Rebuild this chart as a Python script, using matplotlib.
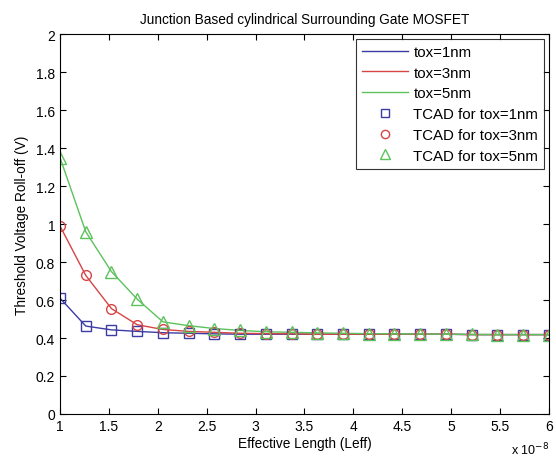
import numpy as np
import matplotlib
matplotlib.use('Agg')
import matplotlib.pyplot as plt

plt.rcParams['font.family'] = ['Liberation Sans', 'DejaVu Sans']

# effective length, in units of 1e-8 m
leff = [1.0, 1.263, 1.526, 1.789, 2.053, 2.316, 2.579, 2.842, 3.105, 3.368,
        3.632, 3.895, 4.158, 4.421, 4.684, 4.947, 5.211, 5.474, 5.737, 6.0]

vth_tox1 = [0.61, 0.463, 0.443, 0.435, 0.428, 0.425, 0.422, 0.42, 0.42, 0.42,
            0.42, 0.42, 0.42, 0.42, 0.42, 0.42, 0.418, 0.418, 0.418, 0.418]
vth_tox3 = [0.99, 0.73, 0.555, 0.47, 0.445, 0.435, 0.43, 0.425, 0.423, 0.422,
            0.42, 0.42, 0.42, 0.42, 0.42, 0.42, 0.418, 0.418, 0.418, 0.418]
vth_tox5 = [1.35, 0.96, 0.75, 0.605, 0.485, 0.465, 0.45, 0.44, 0.433, 0.43,
            0.427, 0.425, 0.423, 0.422, 0.421, 0.42, 0.419, 0.418, 0.418, 0.418]

blue = '#3c3ca4'
red = '#d84444'
green = '#5cc25c'

fig = plt.figure(figsize=(5.56, 4.6), dpi=100)
ax = fig.add_axes([0.108, 0.098, 0.879, 0.825])

ax.plot(leff, vth_tox1, color=blue, lw=1.0, label='tox=1nm')
ax.plot(leff, vth_tox3, color=red, lw=1.0, label='tox=3nm')
ax.plot(leff, vth_tox5, color=green, lw=1.0, label='tox=5nm')
ax.plot(leff, vth_tox1, ls='none', marker='s', ms=7, mfc='none', mec=blue, mew=1.0,
        label='TCAD for tox=1nm')
ax.plot(leff, vth_tox3, ls='none', marker='o', ms=7, mfc='none', mec=red, mew=1.0,
        label='TCAD for tox=3nm')
ax.plot(leff, vth_tox5, ls='none', marker='^', ms=8, mfc='none', mec=green, mew=1.0,
        label='TCAD for tox=5nm')

ax.set_xlim(1, 6)
ax.set_ylim(0, 2)
ax.set_xticks(np.arange(1, 6.01, 0.5))
ax.set_xticklabels(['1', '1.5', '2', '2.5', '3', '3.5', '4', '4.5', '5', '5.5', '6'])
ax.set_yticks(np.arange(0, 2.01, 0.2))
ax.set_yticklabels(['0', '0.2', '0.4', '0.6', '0.8', '1', '1.2', '1.4', '1.6', '1.8', '2'])
ax.tick_params(direction='in', top=True, right=True, labelsize=10, length=4, width=0.8)
ax.tick_params(axis='x', pad=4)
for s in ax.spines.values():
    s.set_linewidth(0.8)

ax.set_title('Junction Based cylindrical Surrounding Gate MOSFET', fontsize=9.8, pad=8)
ax.set_xlabel('Effective Length (Leff)', fontsize=9.8, labelpad=2)
ax.set_ylabel('Threshold Voltage Roll-off (V)', fontsize=9.8, labelpad=5)
ax.text(1.0, -0.093, r'x 10$^{-8}$', transform=ax.transAxes, ha='right', va='center',
        fontsize=9)

leg = ax.legend(loc='upper right', fontsize=10.8, frameon=True, fancybox=False,
                edgecolor='black', borderpad=0.4, labelspacing=0.45, handlelength=3.1,
                handletextpad=0.35, borderaxespad=0.3, markerscale=0.85)
leg.get_frame().set_linewidth(0.8)

fig.savefig('out.png', dpi=100)
